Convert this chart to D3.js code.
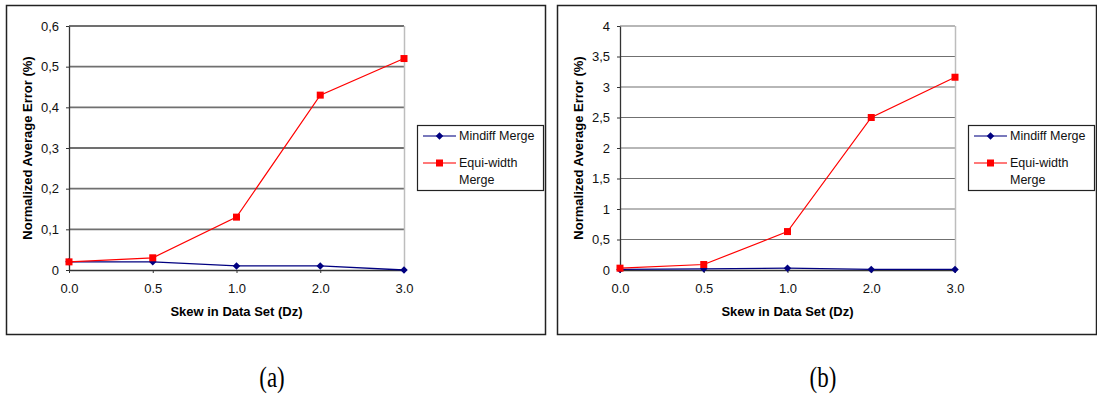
<!DOCTYPE html>
<html>
<head>
<meta charset="utf-8">
<script src="https://cdn.jsdelivr.net/npm/d3@7"></script>
<style>
  body { margin: 0; background: #fff; }
  svg { display: block; }
  text { font-family: "Liberation Sans", Arial, sans-serif; }
</style>
</head>
<body>
<div id="chart"></div>
<script>
// categories on the x axis (skew Dz)
const skewCategories = ["0.0", "0.5", "1.0", "2.0", "3.0"];

// panel (a)
const mindiffA = [0.02, 0.02, 0.01, 0.01, 0.0];
const equiWidthA = [0.02, 0.03, 0.13, 0.43, 0.52];
const yTicksA = [0, 0.1, 0.2, 0.3, 0.4, 0.5, 0.6];

// panel (b)
const mindiffB = [0.01, 0.02, 0.03, 0.01, 0.01];
const equiWidthB = [0.03, 0.09, 0.63, 2.5, 3.16];
const yTicksB = [0, 0.5, 1, 1.5, 2, 2.5, 3, 3.5, 4];

const seriesNames = ["Mindiff Merge", "Equi-width Merge"];
const captions = ["(a)", "(b)"];

const svg = d3.select("#chart").append("svg")
  .attr("width", 1097)
  .attr("height", 394);

const fmt = d => String(d).replace(".", ",");

function drawPanel(offsetX, mindiff, equi, yTicks, caption, gridWidth) {
  const g = svg.append("g").attr("transform", `translate(${offsetX},0)`);

  // outer frame
  g.append("rect")
    .attr("x", 6.5).attr("y", 5.5)
    .attr("width", 539).attr("height", 329)
    .attr("fill", "none")
    .attr("stroke", "#222")
    .attr("stroke-width", 1.5);

  const left = 69, right = 404, top = 26, bottom = 270;

  const x = d3.scalePoint().domain(skewCategories).range([left, right]);
  const y = d3.scaleLinear().domain([0, d3.max(yTicks)]).range([bottom, top]);

  // horizontal gridlines
  g.append("g").selectAll("line")
    .data(yTicks.filter(d => d > 0))
    .join("line")
    .attr("x1", left).attr("x2", right)
    .attr("y1", d => y(d)).attr("y2", d => y(d))
    .attr("stroke", "#707070")
    .attr("stroke-width", gridWidth);

  // right plot border
  g.append("line")
    .attr("x1", right + 0.5).attr("x2", right + 0.5)
    .attr("y1", top).attr("y2", bottom)
    .attr("stroke", "#bdbdbd")
    .attr("stroke-width", 1.5);

  // y axis
  const yAxis = g.append("g")
    .attr("transform", `translate(${left},0)`)
    .call(d3.axisLeft(y).tickValues(yTicks).tickFormat(fmt).tickSize(3).tickPadding(7).tickSizeOuter(0));
  yAxis.select(".domain").attr("stroke", "#333").attr("stroke-width", 1.3);
  yAxis.selectAll(".tick line").attr("stroke", "#333");
  yAxis.selectAll("text").attr("font-size", 13).attr("fill", "#111")
    .style("font-family", "'Liberation Sans', Arial, sans-serif");

  // x axis
  const xAxis = g.append("g")
    .attr("transform", `translate(0,${bottom})`)
    .call(d3.axisBottom(x).tickSize(3).tickPadding(11).tickSizeOuter(0));
  xAxis.select(".domain").attr("stroke", "#333").attr("stroke-width", 1.5);
  xAxis.selectAll(".tick line").attr("stroke", "#333");
  xAxis.selectAll("text").attr("font-size", 13).attr("fill", "#111")
    .style("font-family", "'Liberation Sans', Arial, sans-serif");

  // axis titles
  g.append("text")
    .attr("transform", `translate(${left - 42},${(top + bottom) / 2}) rotate(-90)`)
    .attr("text-anchor", "middle")
    .attr("dy", "0.35em")
    .attr("font-size", 13)
    .attr("font-weight", "bold")
    .text("Normalized Average Error (%)");

  g.append("text")
    .attr("x", (left + right) / 2)
    .attr("y", 316)
    .attr("text-anchor", "middle")
    .attr("font-size", 13)
    .attr("font-weight", "bold")
    .text("Skew in Data Set (Dz)");

  const line = d3.line().x((d, i) => x(skewCategories[i])).y(d => y(d));

  // Mindiff series
  g.append("path")
    .datum(mindiff)
    .attr("d", line)
    .attr("fill", "none")
    .attr("stroke", "#000080")
    .attr("stroke-width", 1.3);
  g.append("g").selectAll("path")
    .data(mindiff)
    .join("path")
    .attr("d", d3.symbol(d3.symbolDiamond2, 36))
    .attr("transform", (d, i) => `translate(${x(skewCategories[i])},${y(d)})`)
    .attr("fill", "#000080");

  // Equi-width series
  g.append("path")
    .datum(equi)
    .attr("d", line)
    .attr("fill", "none")
    .attr("stroke", "#ff0000")
    .attr("stroke-width", 1.2);
  g.append("g").selectAll("rect")
    .data(equi)
    .join("rect")
    .attr("x", (d, i) => x(skewCategories[i]) - 3.5)
    .attr("y", d => y(d) - 3.5)
    .attr("width", 7).attr("height", 7)
    .attr("fill", "#ff0000");

  // legend
  const lg = g.append("g").attr("transform", "translate(417,125)");
  lg.append("rect")
    .attr("x", 0.5).attr("y", 0.5)
    .attr("width", 126).attr("height", 65)
    .attr("fill", "#fff")
    .attr("stroke", "#222")
    .attr("stroke-width", 1.2);

  const entries = [
    { name: seriesNames[0], color: "#000080", yy: 11, marker: "diamond" },
    { name: seriesNames[1], color: "#ff0000", yy: 38, marker: "square" }
  ];
  entries.forEach(e => {
    lg.append("line")
      .attr("x1", 6).attr("x2", 39)
      .attr("y1", e.yy).attr("y2", e.yy)
      .attr("stroke", e.color)
      .attr("stroke-opacity", 0.7)
      .attr("stroke-width", 1.3);
    if (e.marker === "diamond") {
      lg.append("path")
        .attr("d", d3.symbol(d3.symbolDiamond2, 36))
        .attr("transform", `translate(22.5,${e.yy})`)
        .attr("fill", e.color);
    } else {
      lg.append("rect")
        .attr("x", 19).attr("y", e.yy - 3.5)
        .attr("width", 7).attr("height", 7)
        .attr("fill", e.color);
    }
  });
  lg.append("text").attr("x", 42).attr("y", 11).attr("dy", "0.35em")
    .attr("font-size", 12.5).attr("fill", "#111").text("Mindiff Merge");
  lg.append("text").attr("x", 42).attr("y", 38).attr("dy", "0.35em")
    .attr("font-size", 12.5).attr("fill", "#111").text("Equi-width");
  lg.append("text").attr("x", 42).attr("y", 55).attr("dy", "0.35em")
    .attr("font-size", 12.5).attr("fill", "#111").text("Merge");

  // caption under panel
  svg.append("text")
    .attr("transform", `translate(${offsetX + 272},387) scale(0.85,1.1)`)
    .attr("text-anchor", "middle")
    .attr("font-size", 27)
    .style("font-family", "'Liberation Serif', 'Times New Roman', serif")
    .text(caption);
}

drawPanel(0, mindiffA, equiWidthA, yTicksA, captions[0], 1.8);
drawPanel(551, mindiffB, equiWidthB, yTicksB, captions[1], 1.2);
</script>
</body>
</html>
